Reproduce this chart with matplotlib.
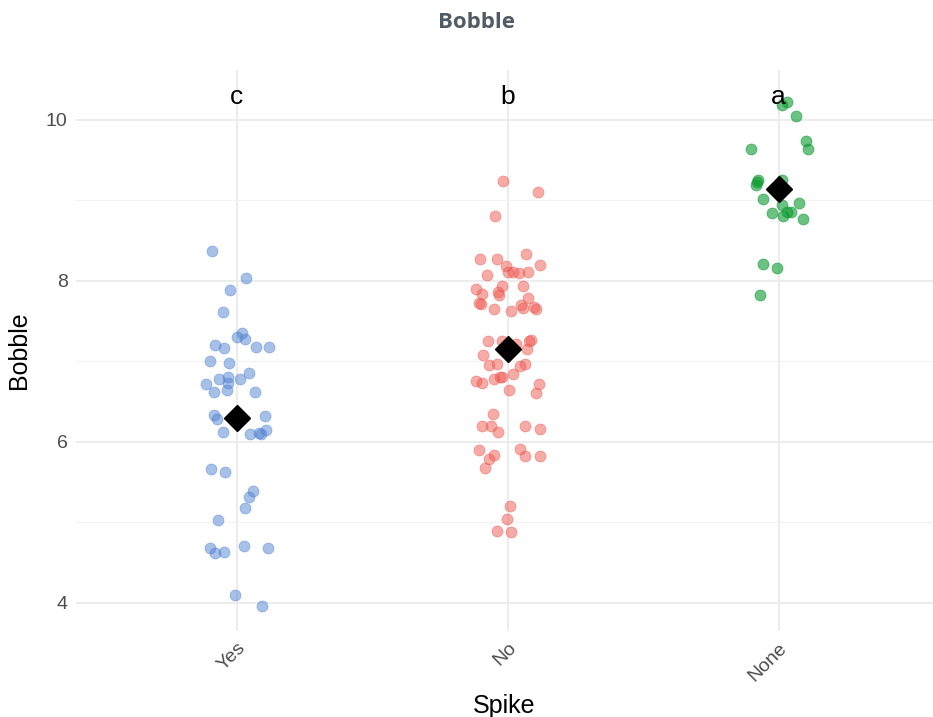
import matplotlib
matplotlib.use("Agg")
import matplotlib.pyplot as plt
from matplotlib.ticker import MultipleLocator

categories = ["Yes", "No", "None"]
group_letters = ["c", "b", "a"]
group_means = [6.30, 7.15, 9.14]
colors = ["#5082D2", "#EE5850", "#0A9A30"]

yes_vals = [8.37, 8.04, 7.89, 7.61, 7.35, 7.30, 7.28, 7.20, 7.17, 7.18, 7.18, 7.00, 6.98,
            6.86, 6.78, 6.80, 6.73, 6.78, 6.72, 6.62, 6.64, 6.62, 6.33, 6.28, 6.32, 6.12,
            6.10, 6.11, 6.15, 6.10, 5.66, 5.63, 5.39, 5.32, 5.18, 5.03, 4.68, 4.62, 4.63,
            4.70, 4.68, 4.10, 3.96]
yes_jitter = [-0.092, 0.033, -0.026, -0.052, 0.018, 0.0, 0.030, -0.081, -0.048, 0.070, 0.118,
              -0.100, -0.030, 0.044, -0.066, -0.033, -0.033, 0.011, -0.114, -0.085, -0.037,
              0.066, -0.085, -0.074, 0.103, -0.052, 0.048, 0.081, 0.107, 0.089, -0.096,
              -0.044, 0.059, 0.044, 0.030, -0.070, -0.100, -0.081, -0.048, 0.026, 0.114,
              -0.007, 0.092]

no_vals = [9.24, 9.11, 8.81, 8.27, 8.27, 8.34, 8.20, 8.18, 8.11, 8.11, 8.10, 8.11, 8.07,
           7.90, 7.84, 7.94, 7.86, 7.83, 7.94, 7.79, 7.73, 7.71, 7.65, 7.63, 7.70, 7.66,
           7.68, 7.65, 7.25, 7.25, 7.22, 7.25, 7.27, 7.15, 7.08, 6.96, 6.97, 6.94, 6.97,
           6.76, 6.73, 6.78, 6.81, 6.80, 6.84, 6.65, 6.72, 6.61, 6.34, 6.20, 6.20, 6.12,
           6.20, 6.16, 5.90, 5.84, 5.79, 5.91, 5.83, 5.83, 5.68, 5.20, 5.04, 4.89, 4.88]
no_jitter = [-0.018, 0.111, -0.048, -0.103, -0.041, 0.066, 0.118, -0.007, 0.0, 0.018, 0.041,
             0.074, -0.077, -0.118, -0.096, -0.022, -0.037, -0.033, 0.055, 0.074, -0.107,
             -0.100, -0.052, 0.011, 0.048, 0.055, 0.096, 0.103, -0.074, -0.022, 0.030,
             0.077, 0.085, 0.070, -0.092, -0.070, -0.041, 0.044, 0.063, -0.118, -0.096,
             -0.052, -0.030, -0.022, 0.018, 0.004, 0.114, 0.103, -0.055, -0.096, -0.063,
             -0.037, 0.063, 0.118, -0.107, -0.052, -0.070, 0.044, 0.063, 0.118, -0.085,
             0.007, -0.004, -0.041, 0.011]

none_vals = [10.22, 10.18, 10.05, 9.74, 9.64, 9.64, 9.25, 9.19, 9.23, 9.02, 8.94, 8.97,
             8.84, 8.86, 8.86, 8.80, 8.77, 8.21, 8.16, 7.83, 9.25]
none_jitter = [0.030, 0.011, 0.063, 0.100, 0.107, -0.103, -0.077, -0.085, -0.081, -0.059,
               0.011, 0.074, -0.026, 0.030, 0.044, 0.015, 0.089, -0.059, -0.007, -0.070,
               0.011]

group_vals = [yes_vals, no_vals, none_vals]
group_jitter = [yes_jitter, no_jitter, none_jitter]
group_alpha = [0.5, 0.5, 0.6]

plt.rcParams["font.family"] = ["Liberation Sans", "DejaVu Sans"]

fig = plt.figure(figsize=(9.33, 7.17), dpi=100)
ax = fig.add_axes([76 / 933, 1 - 631 / 717, 1 - 76 / 933, (631 - 70) / 717])

for i, (vals, jit, col, a) in enumerate(zip(group_vals, group_jitter, colors, group_alpha)):
    xs = [i + 1 + j for j in jit]
    ax.scatter(xs, vals, s=62, color=col, alpha=a, edgecolors=col, linewidths=0.6, zorder=3)

ax.plot(range(1, len(categories) + 1), group_means, linestyle="none", marker="D",
        markersize=13.5, color="black", zorder=4)

for i, letter in enumerate(group_letters):
    ax.text(i + 1, 10.28, letter, ha="center", va="center", fontsize=19, color="black", zorder=5)

ax.set_xlim(0.406, 3.57)
ax.set_ylim(3.65, 10.62)
ax.set_xticks(range(1, len(categories) + 1))
ax.set_xticklabels(categories, rotation=45, ha="right", va="top", rotation_mode="anchor")
ax.yaxis.set_major_locator(MultipleLocator(2))
ax.yaxis.set_minor_locator(MultipleLocator(1))

ax.grid(True, which="major", color="#ebebeb", linewidth=1.3, zorder=0)
ax.grid(True, which="minor", axis="y", color="#f2f2f2", linewidth=0.8, zorder=0)
ax.set_axisbelow(True)
for sp in ax.spines.values():
    sp.set_visible(False)
ax.tick_params(which="both", length=0, labelsize=14, labelcolor="#4d4d4d", pad=6)

ax.set_xlabel("Spike", fontsize=18, labelpad=7)
ax.set_ylabel("Bobble", fontsize=18, labelpad=11)

fig.text(476 / 933, 1 - 22 / 717, "Bobble", ha="center", va="center", fontsize=16,
         fontweight="bold", color="#505b66", family=["Open Sans", "DejaVu Sans"])

fig.savefig("out.png", dpi=100, facecolor="white")
